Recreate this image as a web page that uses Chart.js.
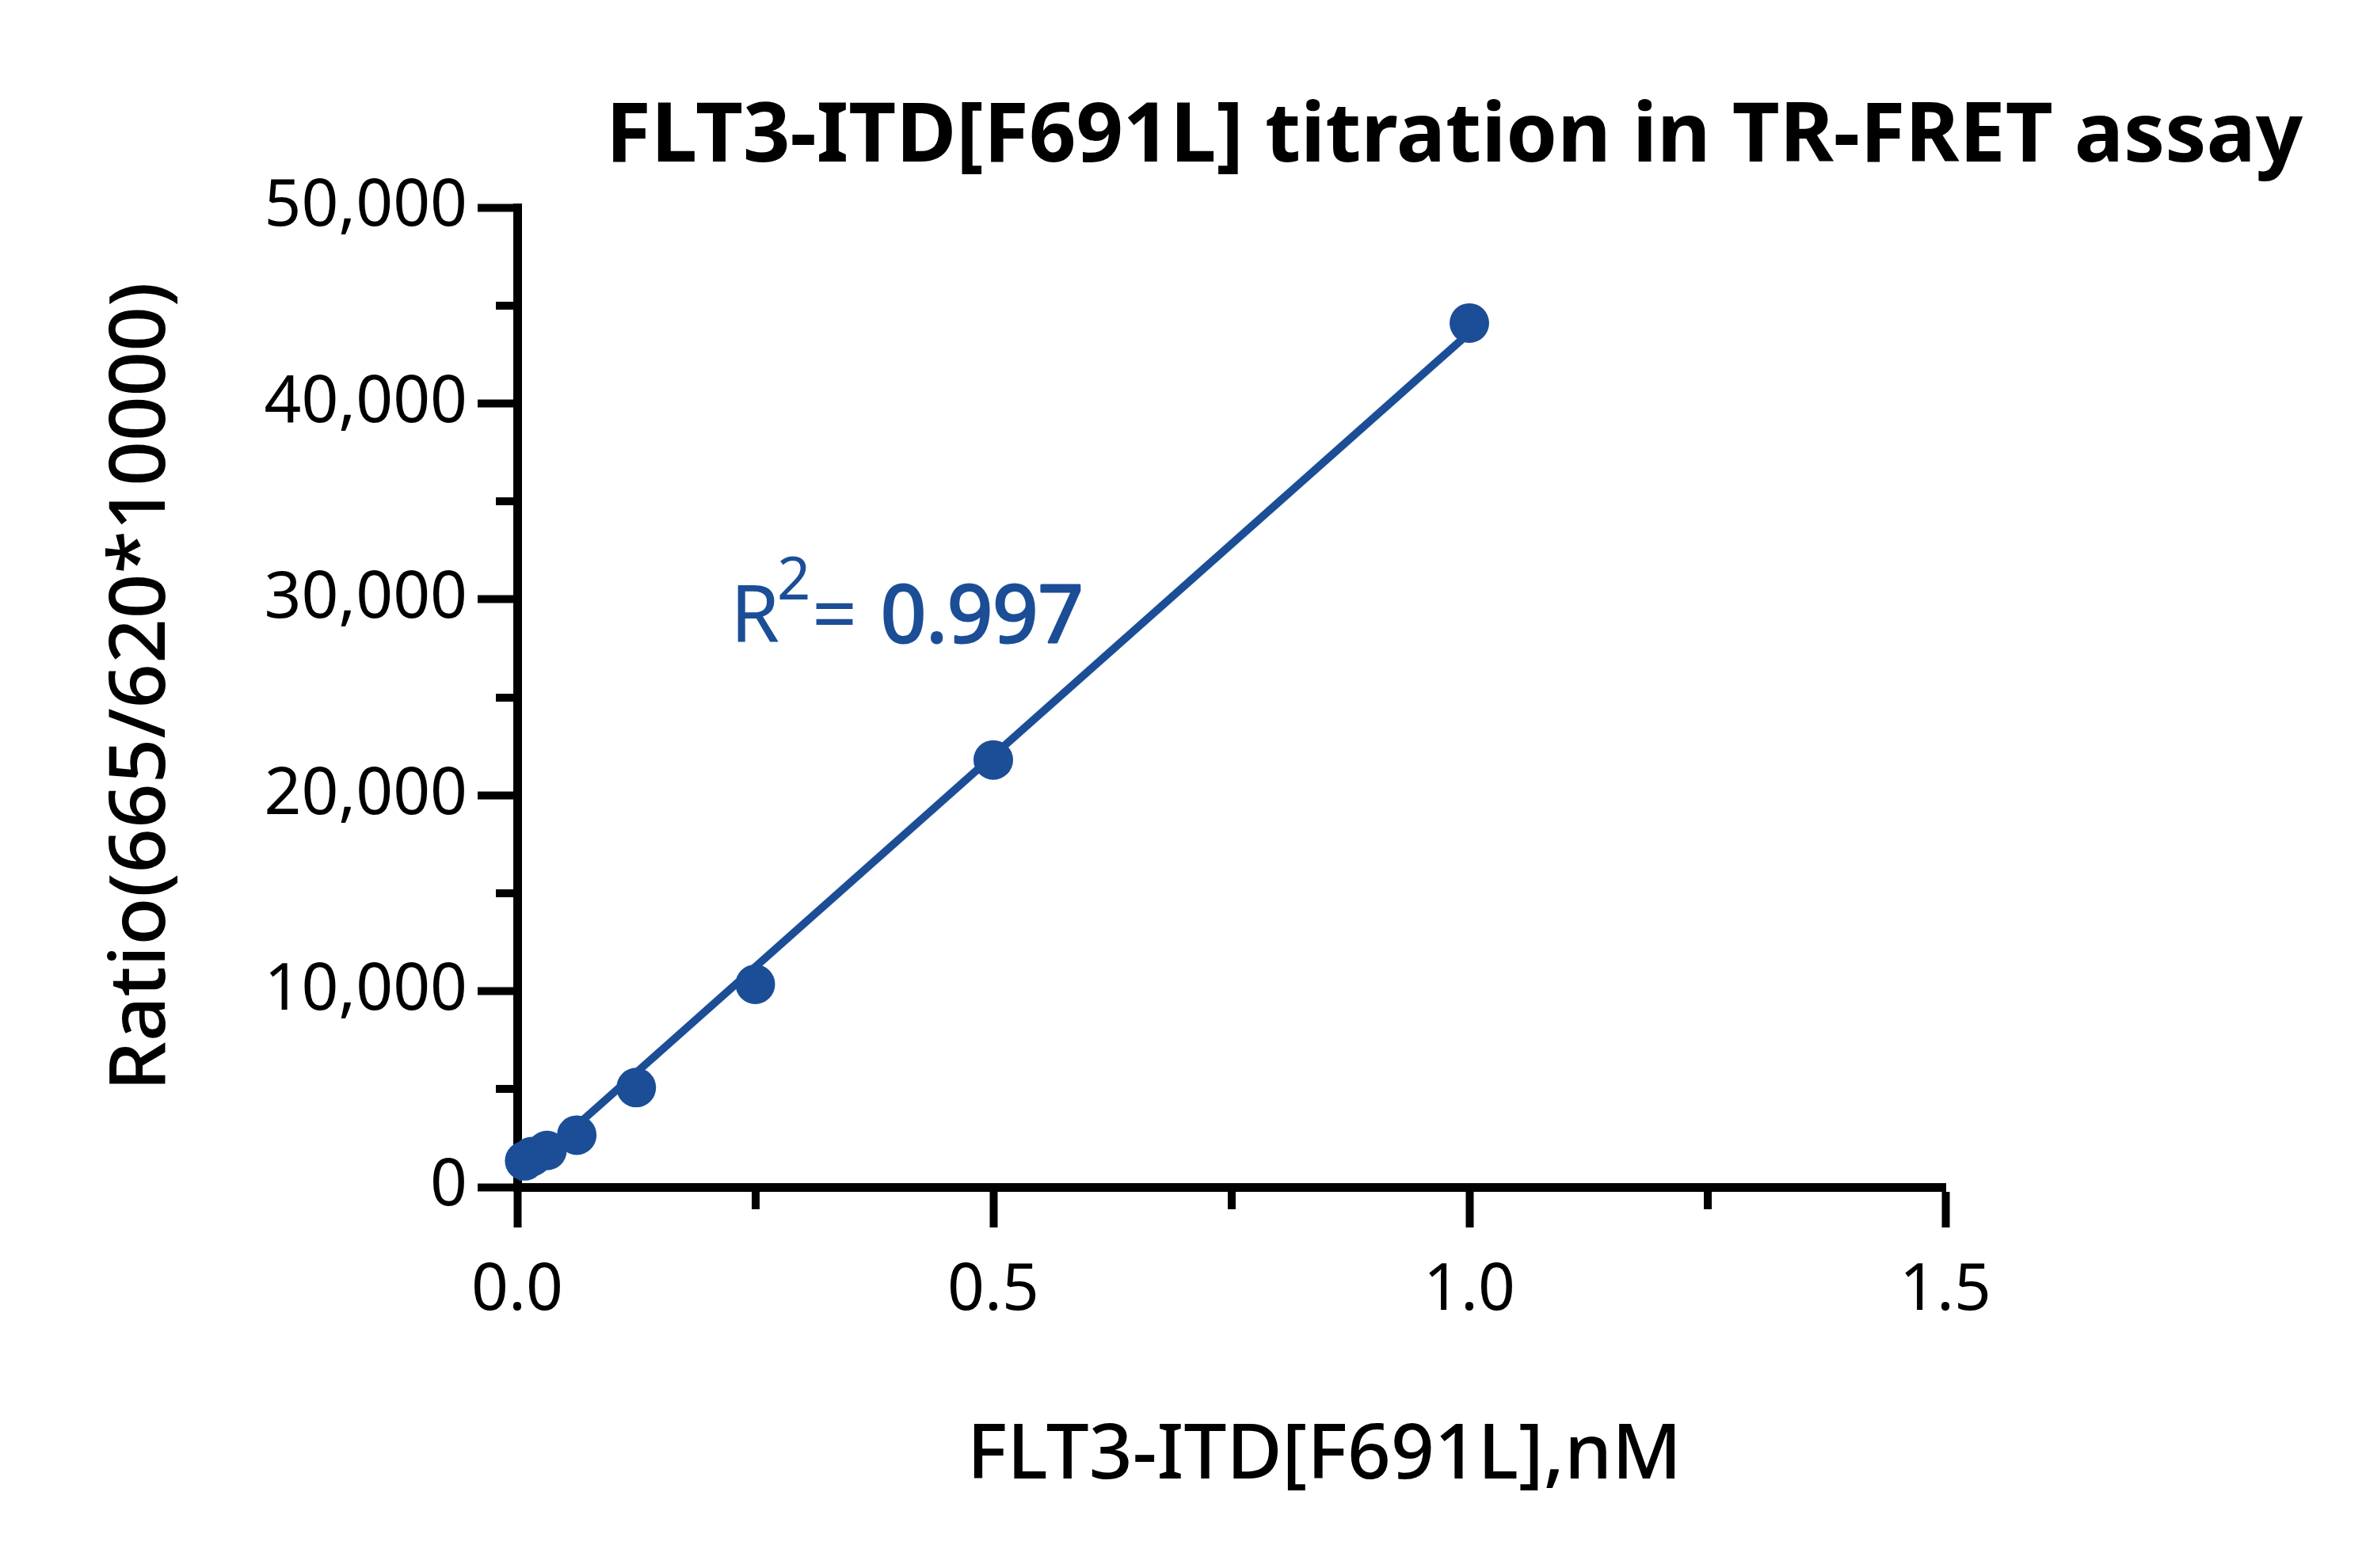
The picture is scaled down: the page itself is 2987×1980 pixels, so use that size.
<!DOCTYPE html>
<html>
<head>
<meta charset="utf-8">
<script src="https://cdn.jsdelivr.net/npm/chart.js@4.4.1/dist/chart.umd.min.js"></script>
<style>
  html, body { margin: 0; padding: 0; background: #fff; }
  #wrap { width: 2987px; height: 1980px; }
</style>
</head>
<body>
<div id="wrap"><canvas id="chart" width="2987" height="1980"></canvas></div>
<script>
// concentration (nM) and TR-FRET ratio
const concNM = [1, 0.5, 0.25, 0.125, 0.0625, 0.03125, 0.015625, 0.0078125];
const ratio  = [44100, 21800, 10350, 5080, 2650, 1870, 1560, 1340];

// linear fit line end points as drawn
const fitX = [0, 1];
const fitY = [450, 43600];

const xTicks = [0, 0.5, 1.0, 1.5];
const yTicks = [0, 10000, 20000, 30000, 40000, 50000];
const xMinorTicks = [0.25, 0.75, 1.25];
const yMinorTicks = [5000, 15000, 25000, 35000, 45000];

const titleText = 'FLT3-ITD[F691L] titration in TR-FRET assay';
const xTitle = 'FLT3-ITD[F691L],nM';
const yTitle = 'Ratio(665/620*10000)';
const r2Value = '0.997';

const BLUE = '#1B4E96';
const FONT = "'Noto Sans', 'DejaVu Sans', sans-serif";

const minorTicks = {
    id: 'minorTicks',
    beforeDatasetsDraw(chart) {
        const {ctx, chartArea, scales} = chart;
        ctx.save();
        ctx.strokeStyle = '#000';
        ctx.lineWidth = 10;
        ctx.lineCap = 'butt';
        xMinorTicks.forEach(v => {
            const px = Math.round(scales.x.getPixelForValue(v));
            ctx.beginPath();
            ctx.moveTo(px, chartArea.bottom);
            ctx.lineTo(px, chartArea.bottom + 28);
            ctx.stroke();
        });
        yMinorTicks.forEach(v => {
            const py = Math.round(scales.y.getPixelForValue(v));
            ctx.beginPath();
            ctx.moveTo(chartArea.left, py);
            ctx.lineTo(chartArea.left - 27, py);
            ctx.stroke();
        });
        ctx.restore();
    }
};

const textLayer = {
    id: 'textLayer',
    afterDraw(chart) {
        const {ctx} = chart;
        ctx.save();
        ctx.fillStyle = '#000';
        ctx.textBaseline = 'alphabetic';

        // title
        ctx.font = `bold 104px ${FONT}`;
        ctx.textAlign = 'center';
        ctx.fillText(titleText, 1836, 204);

        // x axis title
        ctx.font = `500 96px ${FONT}`;
        ctx.fillText(xTitle, 1672, 1867);

        // y axis title
        ctx.save();
        ctx.translate(208, 867);
        ctx.rotate(-Math.PI / 2);
        ctx.font = `500 99px ${FONT}`;
        ctx.fillText(yTitle, 0, 0);
        ctx.restore();

        // R² annotation
        ctx.fillStyle = BLUE;
        ctx.strokeStyle = BLUE;
        ctx.textAlign = 'left';
        ctx.font = `100px ${FONT}`;
        ctx.fillText('R', 922, 811);
        ctx.font = `74px ${FONT}`;
        ctx.fillText('2', 981, 757);
        ctx.font = `100px ${FONT}`;
        ctx.fillText('=', 1025, 811);
        // semibold look for the value
        ctx.lineWidth = 3;
        ctx.lineJoin = 'round';
        ctx.fillText(r2Value, 1112, 811);
        ctx.strokeText(r2Value, 1112, 811);
        ctx.restore();
    }
};

const ctx = document.getElementById('chart').getContext('2d');
new Chart(ctx, {
    type: 'scatter',
    data: {
        datasets: [
            {
                label: 'fit',
                data: fitX.map((x, i) => ({x: x, y: fitY[i]})),
                showLine: true,
                borderColor: BLUE,
                borderWidth: 10,
                pointRadius: 0,
                clip: false,
                order: 2
            },
            {
                label: 'data',
                data: concNM.map((x, i) => ({x: x, y: ratio[i]})),
                showLine: false,
                backgroundColor: BLUE,
                borderColor: BLUE,
                borderWidth: 0,
                pointRadius: 25,
                pointHoverRadius: 25,
                clip: false,
                order: 1
            }
        ]
    },
    plugins: [minorTicks, textLayer],
    options: {
        responsive: false,
        animation: false,
        devicePixelRatio: 1,
        layout: { padding: { left: 0, top: 262, right: 531, bottom: 0 } },
        plugins: { legend: { display: false }, tooltip: { enabled: false } },
        scales: {
            x: {
                type: 'linear', min: 0, max: 1.5,
                afterBuildTicks: s => { s.ticks = xTicks.map(v => ({value: v})); },
                afterFit: s => { s.height = 481; },
                border: { display: true, width: 11, color: '#000' },
                grid: { drawOnChartArea: false, drawTicks: true, tickLength: 51, tickWidth: 10, tickColor: '#000' },
                ticks: {
                    color: '#000', padding: 31, maxRotation: 0, autoSkip: false,
                    font: { family: FONT, size: 82 },
                    callback: v => Number(v).toFixed(1)
                }
            },
            y: {
                type: 'linear', min: 0, max: 50000,
                afterBuildTicks: s => { s.ticks = yTicks.map(v => ({value: v})); },
                afterFit: s => { s.width = 653; },
                border: { display: true, width: 11, color: '#000' },
                grid: { drawOnChartArea: false, drawTicks: true, tickLength: 50, tickWidth: 10, tickColor: '#000' },
                ticks: {
                    color: '#000', padding: 13, autoSkip: false,
                    font: { family: FONT, size: 82 },
                    callback: v => Number(v).toLocaleString('en-US')
                }
            }
        }
    }
});
</script>
</body>
</html>
